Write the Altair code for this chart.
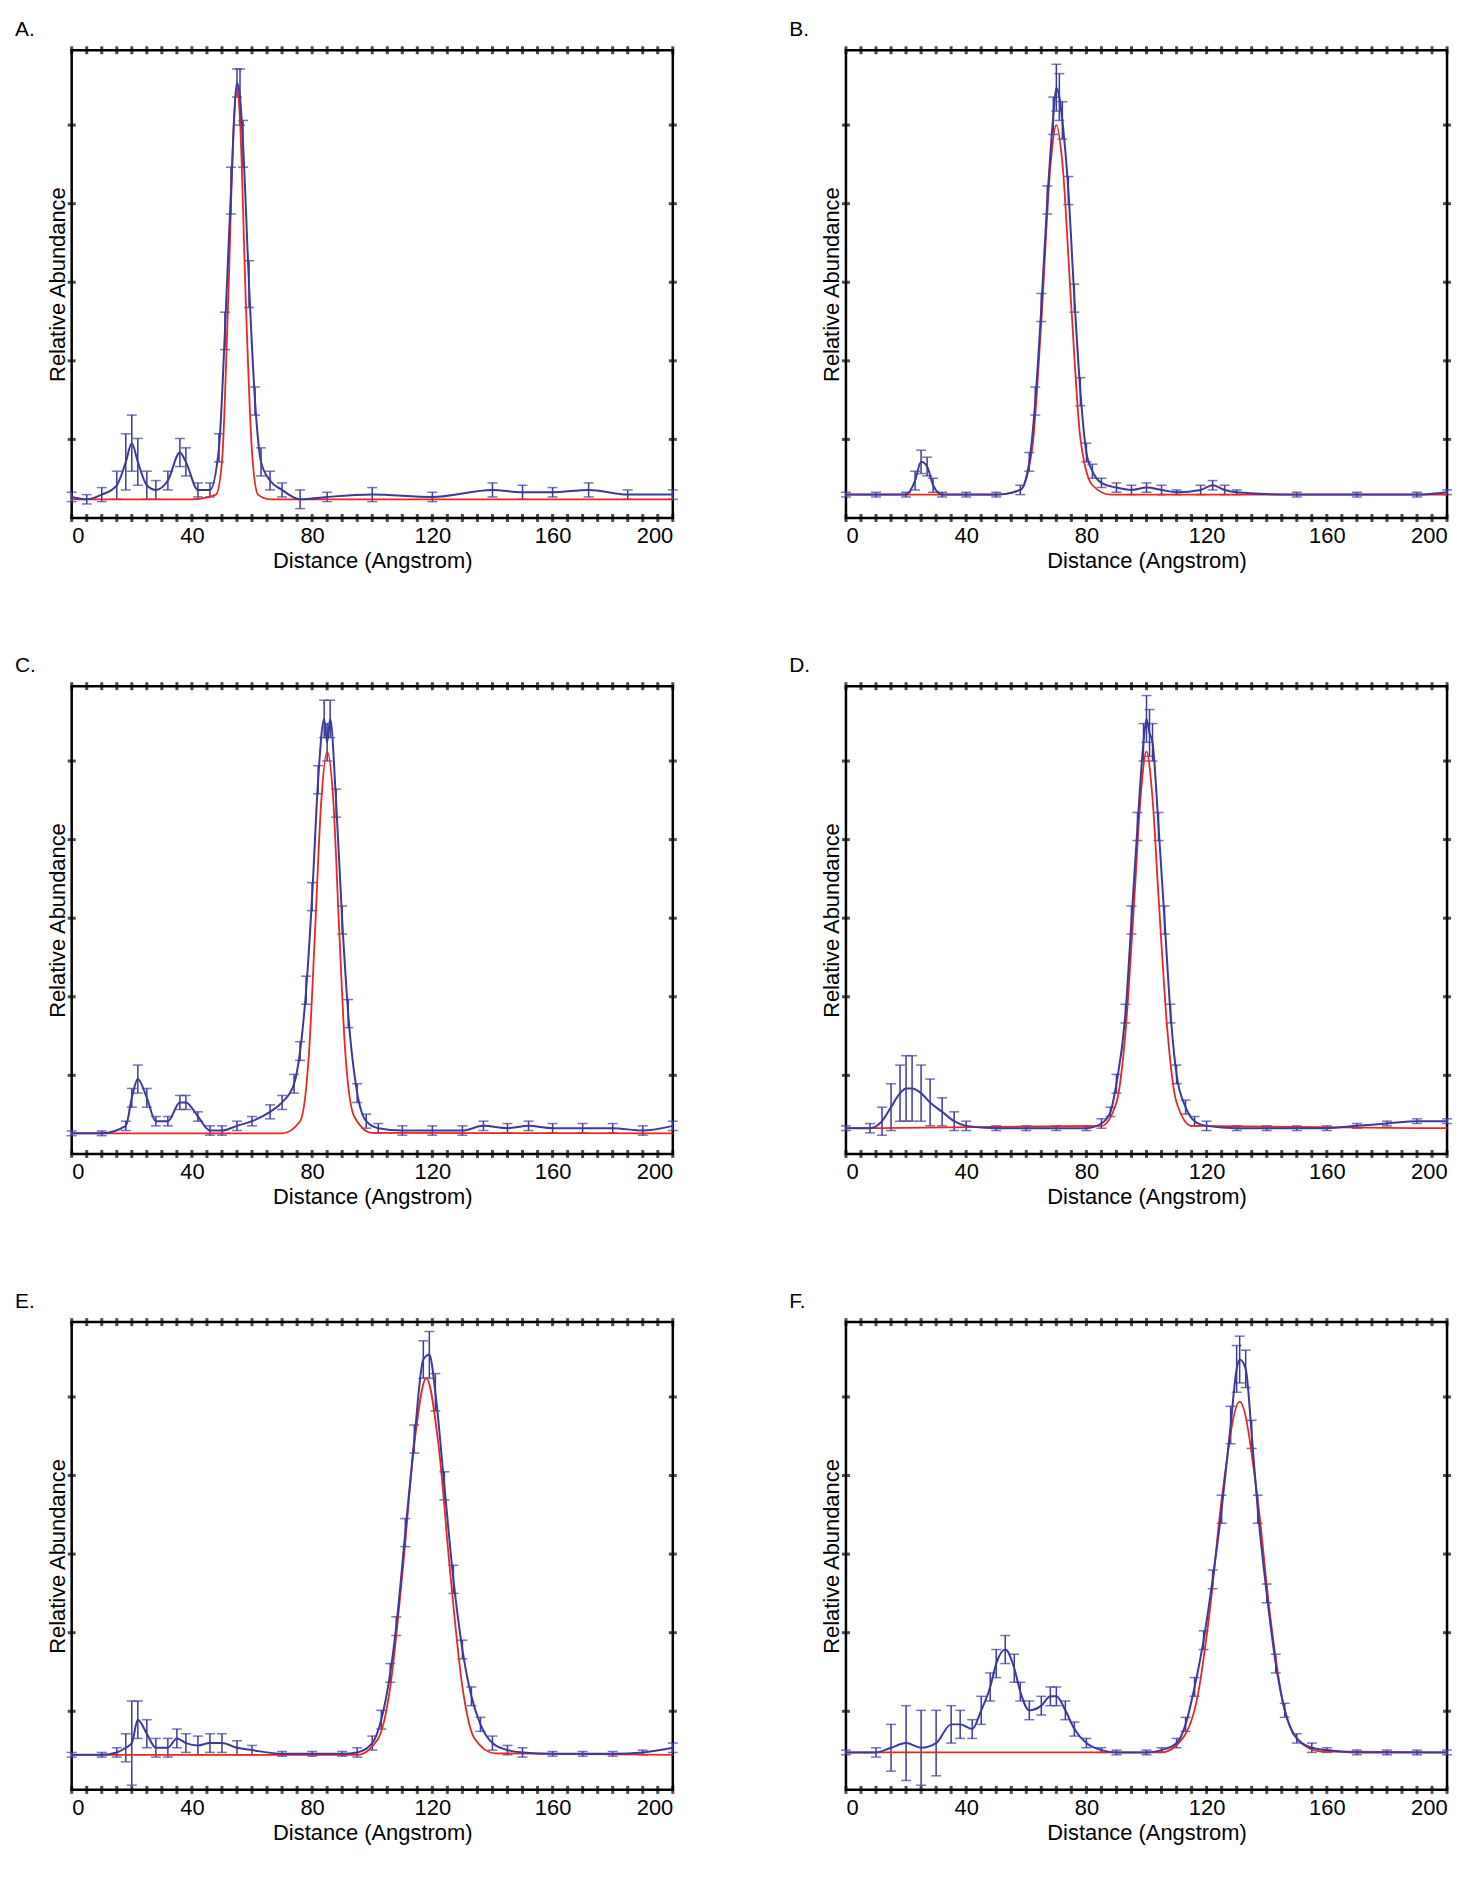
import pandas as pd
import altair as alt

# Panel data (y in fraction of plot height, 0 = bottom frame)
A_x   = [0, 5, 10, 15, 18, 20, 22, 25, 28, 32, 36, 38, 42, 46, 49, 51, 53, 55, 56, 57, 59, 61, 63, 66, 70, 76, 85, 100, 120, 140, 150, 160, 172, 185, 200]
A_y   = [0.045, 0.04, 0.05, 0.07, 0.12, 0.16, 0.12, 0.07, 0.06, 0.08, 0.14, 0.12, 0.06, 0.06, 0.15, 0.40, 0.70, 0.93, 0.90, 0.80, 0.50, 0.25, 0.12, 0.08, 0.06, 0.04, 0.045, 0.05, 0.045, 0.06, 0.055, 0.055, 0.06, 0.05, 0.05]
A_err = [0.01, 0.01, 0.015, 0.03, 0.06, 0.06, 0.05, 0.03, 0.02, 0.02, 0.03, 0.03, 0.015, 0.015, 0.03, 0.04, 0.05, 0.03, 0.06, 0.05, 0.05, 0.03, 0.03, 0.02, 0.015, 0.02, 0.01, 0.015, 0.01, 0.015, 0.015, 0.01, 0.015, 0.01, 0.01]
A_fx  = [0, 40, 48, 50, 52, 54, 55, 56, 58, 60, 62, 66, 200]
A_fy  = [0.04, 0.04, 0.05, 0.12, 0.45, 0.85, 0.92, 0.85, 0.45, 0.14, 0.05, 0.04, 0.04]

B_x   = [0, 10, 20, 23, 25, 27, 29, 32, 40, 50, 58, 61, 63, 65, 67, 69, 70, 71, 72, 74, 76, 78, 80, 82, 85, 90, 95, 100, 105, 110, 118, 122, 126, 130, 150, 170, 190, 200]
B_y   = [0.05, 0.05, 0.05, 0.08, 0.12, 0.11, 0.07, 0.05, 0.05, 0.05, 0.06, 0.12, 0.25, 0.45, 0.68, 0.86, 0.92, 0.90, 0.85, 0.70, 0.47, 0.27, 0.14, 0.10, 0.075, 0.065, 0.06, 0.065, 0.06, 0.055, 0.06, 0.07, 0.06, 0.055, 0.05, 0.05, 0.05, 0.055]
B_err = [0.005, 0.005, 0.005, 0.02, 0.025, 0.02, 0.015, 0.005, 0.005, 0.005, 0.01, 0.02, 0.03, 0.03, 0.03, 0.04, 0.05, 0.05, 0.04, 0.03, 0.03, 0.03, 0.02, 0.015, 0.01, 0.01, 0.01, 0.01, 0.01, 0.005, 0.01, 0.01, 0.01, 0.005, 0.005, 0.005, 0.005, 0.005]
B_fx  = [0, 50, 58, 62, 65, 68, 70, 72, 75, 78, 82, 88, 200]
B_fy  = [0.05, 0.05, 0.06, 0.15, 0.42, 0.75, 0.84, 0.76, 0.45, 0.17, 0.07, 0.05, 0.05]

C_x   = [0, 10, 18, 20, 22, 25, 28, 32, 36, 38, 42, 46, 50, 55, 60, 66, 70, 74, 76, 78, 80, 82, 84, 85, 86, 88, 90, 92, 95, 98, 102, 110, 120, 130, 137, 145, 152, 160, 170, 180, 190, 200]
C_y   = [0.044, 0.044, 0.06, 0.12, 0.16, 0.12, 0.07, 0.07, 0.11, 0.11, 0.08, 0.05, 0.05, 0.06, 0.07, 0.09, 0.11, 0.15, 0.22, 0.35, 0.55, 0.80, 0.93, 0.88, 0.93, 0.75, 0.50, 0.30, 0.13, 0.07, 0.055, 0.05, 0.05, 0.05, 0.06, 0.055, 0.06, 0.055, 0.055, 0.055, 0.05, 0.06]
C_err = [0.005, 0.005, 0.01, 0.02, 0.03, 0.02, 0.01, 0.01, 0.015, 0.015, 0.01, 0.01, 0.01, 0.01, 0.01, 0.015, 0.015, 0.02, 0.02, 0.03, 0.03, 0.03, 0.04, 0.04, 0.04, 0.03, 0.03, 0.03, 0.02, 0.015, 0.01, 0.01, 0.01, 0.01, 0.01, 0.01, 0.01, 0.01, 0.01, 0.01, 0.01, 0.01]
C_fx  = [0, 70, 76, 79, 81, 83, 85, 87, 89, 91, 94, 100, 200]
C_fy  = [0.044, 0.044, 0.07, 0.22, 0.48, 0.75, 0.86, 0.76, 0.48, 0.22, 0.08, 0.045, 0.044]

D_x   = [0, 8, 12, 15, 18, 20, 22, 25, 28, 32, 36, 40, 50, 60, 70, 80, 85, 88, 90, 93, 95, 97, 99, 100, 101, 102, 104, 106, 108, 110, 113, 116, 120, 130, 140, 150, 160, 170, 180, 190, 200]
D_y   = [0.055, 0.055, 0.07, 0.1, 0.13, 0.14, 0.14, 0.13, 0.11, 0.09, 0.07, 0.06, 0.055, 0.055, 0.055, 0.055, 0.065, 0.09, 0.15, 0.30, 0.50, 0.70, 0.88, 0.93, 0.90, 0.88, 0.70, 0.50, 0.30, 0.17, 0.10, 0.07, 0.06, 0.055, 0.055, 0.055, 0.055, 0.06, 0.065, 0.07, 0.07]
D_err = [0.005, 0.01, 0.03, 0.05, 0.06, 0.07, 0.07, 0.06, 0.05, 0.03, 0.02, 0.01, 0.005, 0.005, 0.005, 0.005, 0.01, 0.01, 0.02, 0.02, 0.03, 0.03, 0.04, 0.05, 0.05, 0.04, 0.03, 0.03, 0.02, 0.02, 0.015, 0.01, 0.01, 0.005, 0.005, 0.005, 0.005, 0.005, 0.005, 0.005, 0.005]
D_fx  = [0, 85, 90, 93, 96, 98, 100, 102, 104, 107, 110, 115, 200]
D_fy  = [0.055, 0.06, 0.11, 0.26, 0.55, 0.76, 0.86, 0.76, 0.55, 0.26, 0.11, 0.06, 0.055]

E_x   = [0, 10, 15, 18, 20, 22, 25, 28, 32, 35, 38, 42, 46, 50, 55, 60, 70, 80, 90, 95, 100, 103, 106, 108, 111, 114, 117, 119, 121, 124, 127, 130, 133, 136, 140, 145, 150, 160, 170, 180, 190, 200]
E_y   = [0.075, 0.075, 0.08, 0.09, 0.10, 0.15, 0.12, 0.09, 0.09, 0.11, 0.10, 0.095, 0.10, 0.10, 0.09, 0.085, 0.077, 0.077, 0.077, 0.08, 0.10, 0.15, 0.25, 0.35, 0.55, 0.75, 0.92, 0.93, 0.85, 0.65, 0.45, 0.30, 0.20, 0.14, 0.10, 0.085, 0.08, 0.077, 0.077, 0.077, 0.08, 0.09]
E_err = [0.005, 0.005, 0.01, 0.03, 0.09, 0.04, 0.03, 0.02, 0.02, 0.02, 0.02, 0.02, 0.02, 0.02, 0.015, 0.01, 0.005, 0.005, 0.005, 0.01, 0.015, 0.02, 0.02, 0.02, 0.03, 0.03, 0.04, 0.05, 0.04, 0.03, 0.03, 0.02, 0.02, 0.015, 0.015, 0.01, 0.01, 0.005, 0.005, 0.005, 0.005, 0.01]
E_fx  = [0, 95, 102, 106, 110, 114, 118, 122, 126, 130, 134, 141, 200]
E_fy  = [0.075, 0.075, 0.11, 0.22, 0.46, 0.74, 0.88, 0.74, 0.46, 0.22, 0.11, 0.078, 0.075]

F_x   = [0, 10, 15, 20, 25, 30, 35, 38, 42, 45, 48, 50, 53, 56, 58, 61, 65, 68, 70, 73, 76, 80, 85, 90, 100, 105, 110, 113, 116, 119, 122, 125, 128, 130, 131, 133, 135, 137, 140, 143, 146, 150, 155, 160, 170, 180, 190, 200]
F_y   = [0.08, 0.08, 0.09, 0.10, 0.09, 0.10, 0.14, 0.14, 0.13, 0.17, 0.22, 0.27, 0.30, 0.26, 0.21, 0.17, 0.18, 0.20, 0.20, 0.17, 0.13, 0.10, 0.085, 0.08, 0.08, 0.085, 0.10, 0.14, 0.22, 0.32, 0.45, 0.60, 0.78, 0.90, 0.92, 0.90, 0.76, 0.60, 0.42, 0.27, 0.17, 0.11, 0.09, 0.085, 0.08, 0.08, 0.08, 0.08]
F_err = [0.005, 0.01, 0.05, 0.08, 0.08, 0.07, 0.04, 0.03, 0.02, 0.03, 0.03, 0.03, 0.03, 0.03, 0.02, 0.02, 0.02, 0.02, 0.02, 0.02, 0.015, 0.01, 0.005, 0.005, 0.005, 0.005, 0.01, 0.015, 0.02, 0.02, 0.02, 0.03, 0.04, 0.05, 0.05, 0.04, 0.03, 0.03, 0.02, 0.02, 0.015, 0.01, 0.01, 0.005, 0.005, 0.005, 0.005, 0.005]
F_fx  = [0, 105, 112, 117, 121, 125, 131, 137, 141, 145, 150, 158, 200]
F_fy  = [0.08, 0.08, 0.11, 0.20, 0.38, 0.62, 0.83, 0.62, 0.38, 0.20, 0.11, 0.082, 0.08]

x_ticks = list(range(0, 201, 5))
y_ticks = [0.168 * i for i in range(1, 6)]

BLUE = "#3a3a9c"
RED = "#e8271e"

xtick_df = pd.DataFrame({"x": x_ticks * 2, "y": [0] * len(x_ticks) + [1] * len(x_ticks)})
ytick_df = pd.DataFrame({"x": [0] * len(y_ticks) + [200] * len(y_ticks), "y": y_ticks * 2})


def panel(label, xs, ys, errs, fx, fy):
    df = pd.DataFrame({"x": xs, "y": ys,
                       "lo": [a - b for a, b in zip(ys, errs)],
                       "hi": [a + b for a, b in zip(ys, errs)]})
    fit = pd.DataFrame({"x": fx, "y": fy})
    xs_ = alt.Scale(domain=[0, 200], nice=False)
    ys_ = alt.Scale(domain=[0, 1], nice=False)
    xax = alt.Axis(values=[0, 40, 80, 120, 160, 200], title="Distance (Angstrom)",
                   grid=False, ticks=False, domain=False, labelPadding=8, titlePadding=4)
    yax = alt.Axis(labels=False, ticks=False, title="Relative Abundance", grid=False,
                   domain=False, titlePadding=2)
    base = alt.Chart(df)
    bars = base.mark_rule(color=BLUE, strokeWidth=1.5).encode(
        x=alt.X("x:Q", scale=xs_, axis=xax), y=alt.Y("lo:Q", scale=ys_, axis=yax), y2="hi:Q")
    cap_lo = base.mark_tick(color=BLUE, orient="horizontal", size=10, thickness=1.5).encode(
        x="x:Q", y="lo:Q")
    cap_hi = base.mark_tick(color=BLUE, orient="horizontal", size=10, thickness=1.5).encode(
        x="x:Q", y="hi:Q")
    red = alt.Chart(fit).mark_line(color=RED, strokeWidth=1.8, interpolate="monotone").encode(
        x="x:Q", y="y:Q")
    blue = base.mark_line(color=BLUE, strokeWidth=2, interpolate="monotone").encode(
        x="x:Q", y="y:Q")
    xt = alt.Chart(xtick_df).mark_tick(color="black", orient="vertical", size=8, thickness=3).encode(
        x="x:Q", y="y:Q")
    yt = alt.Chart(ytick_df).mark_tick(color="black", orient="horizontal", size=8, thickness=3).encode(
        x="x:Q", y="y:Q")
    return alt.layer(bars, cap_lo, cap_hi, red, blue, xt, yt).properties(
        width=604, height=470,
        title=alt.TitleParams(label, anchor="start", dx=-32, fontSize=21,
                              fontWeight="normal", font="Liberation Sans", offset=6))


rows = [
    alt.hconcat(panel("A.", A_x, A_y, A_err, A_fx, A_fy),
                panel("B.", B_x, B_y, B_err, B_fx, B_fy), spacing=108),
    alt.hconcat(panel("C.", C_x, C_y, C_err, C_fx, C_fy),
                panel("D.", D_x, D_y, D_err, D_fx, D_fy), spacing=108),
    alt.hconcat(panel("E.", E_x, E_y, E_err, E_fx, E_fy),
                panel("F.", F_x, F_y, F_err, F_fx, F_fy), spacing=108),
]

chart = alt.vconcat(*rows, spacing=80).configure(
    background="white"
).configure_view(
    stroke="black", strokeWidth=2.5
).configure_axis(
    labelFont="Liberation Sans", titleFont="Liberation Sans",
    labelFontSize=22, titleFontSize=22, titleFontWeight="normal", labelColor="black",
    titleColor="black"
)

chart.save("out.html", embed_options={"renderer": "svg", "actions": False})
